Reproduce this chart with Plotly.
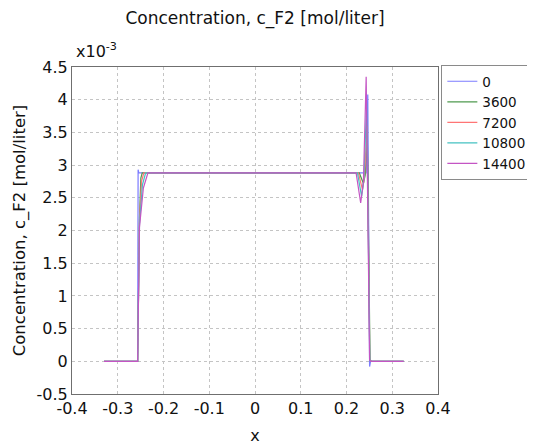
import plotly.graph_objects as go

# Concentration values in units of 1e-3 mol/liter
times = ["0", "3600", "7200", "10800", "14400"]
colors = ["#7b7bff", "#4f9a4f", "#ff7575", "#45c2c2", "#c455c4"]

x_0 = [-0.33, -0.2565, -0.2555, -0.254, -0.252, 0.0, 0.243, 0.2465, 0.2505, 0.2525, 0.325]
c_0 = [0.0, 0.0, 2.93, 2.88, 2.88, 2.88, 2.88, 4.08, -0.08, 0.0, 0.0]

x_3600 = [-0.33, -0.2565, -0.2525, -0.2495, -0.2465, 0.0, 0.228, 0.237, 0.241, 0.2455, 0.2515, 0.254, 0.325]
c_3600 = [0.0, 0.0, 2.2, 2.8, 2.88, 2.88, 2.88, 2.72, 2.85, 3.45, 0.02, 0.0, 0.0]

x_7200 = [-0.33, -0.2565, -0.2525, -0.248, -0.243, 0.0, 0.226, 0.235, 0.239, 0.245, 0.251, 0.254, 0.325]
c_7200 = [0.0, 0.0, 2.15, 2.75, 2.88, 2.88, 2.88, 2.62, 2.8, 3.6, 0.02, 0.0, 0.0]

x_10800 = [-0.33, -0.2565, -0.2525, -0.246, -0.239, 0.0, 0.224, 0.233, 0.238, 0.244, 0.251, 0.254, 0.325]
c_10800 = [0.0, 0.0, 2.1, 2.7, 2.88, 2.88, 2.88, 2.52, 2.78, 3.95, 0.02, 0.0, 0.0]

x_14400 = [-0.33, -0.2565, -0.2525, -0.244, -0.234, 0.0, 0.221, 0.231, 0.237, 0.243, 0.2505, 0.254, 0.325]
c_14400 = [0.0, 0.0, 2.05, 2.65, 2.88, 2.88, 2.88, 2.42, 2.75, 4.35, 0.02, 0.0, 0.0]

xs = [x_0, x_3600, x_7200, x_10800, x_14400]
cs = [c_0, c_3600, c_7200, c_10800, c_14400]

x_ticks = [-0.4, -0.3, -0.2, -0.1, 0, 0.1, 0.2, 0.3, 0.4]
y_ticks = [-0.5, 0, 0.5, 1, 1.5, 2, 2.5, 3, 3.5, 4, 4.5]

FONT = "DejaVu Sans"
TXT = "#111111"

fig = go.Figure()
for t, col, xv, cv in zip(times, colors, xs, cs):
    fig.add_trace(go.Scatter(x=xv, y=cv, mode="lines", name=t,
                             line=dict(color=col, width=1.2)))

axis_common = dict(
    showline=True, linecolor="#6f6f6f", linewidth=1, mirror=True,
    ticks="", showgrid=True, gridcolor="#c4c4c4", griddash="dot", gridwidth=1,
    zeroline=False, tickfont=dict(family=FONT, size=16, color=TXT),
    automargin=False,
)

fig.update_layout(
    width=535, height=445,
    margin=dict(l=64, r=105, t=59, b=59),
    paper_bgcolor="white", plot_bgcolor="white",
    font=dict(family=FONT, color=TXT),
    title=dict(text="Concentration, c_F2 [mol/liter]", x=0.5, xref="paper",
               xanchor="center", y=0.978, yref="container", yanchor="middle",
               font=dict(family=FONT, size=17, color=TXT)),
    xaxis=dict(range=[-0.4, 0.4], tickvals=x_ticks,
               ticktext=[("%g" % v) for v in x_ticks],
               title=dict(text="x", font=dict(family=FONT, size=16, color=TXT), standoff=12),
               **axis_common),
    yaxis=dict(range=[-0.5, 4.5], tickvals=y_ticks,
               ticktext=[("%g" % v) for v in y_ticks],
               title=dict(text="Concentration, c_F2 [mol/liter]",
                          font=dict(family=FONT, size=16.5, color=TXT), standoff=6),
               **axis_common),
    legend=dict(xref="container", yref="container", x=0.81, y=0.872,
                xanchor="left", yanchor="top",
                bordercolor="#8a8a8a", borderwidth=1, bgcolor="white",
                font=dict(family=FONT, size=13.5, color=TXT),
                itemwidth=30, tracegroupgap=0),
    showlegend=True,
    annotations=[dict(text="x10<sup>-3</sup>", xref="paper", yref="paper",
                      x=0, y=1, xanchor="left", yanchor="bottom",
                      showarrow=False, xshift=2, yshift=4,
                      font=dict(family=FONT, size=16, color=TXT))],
)

fig.write_html("out.html")
